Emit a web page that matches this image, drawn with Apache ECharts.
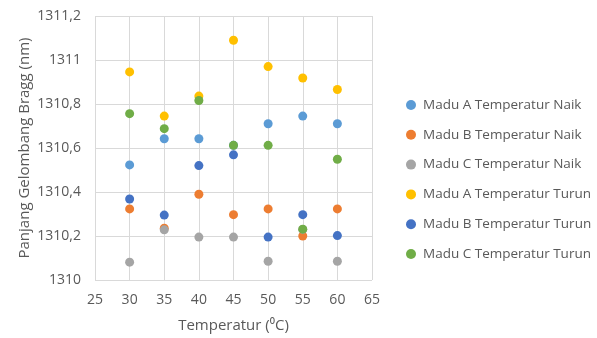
<!DOCTYPE html>
<html>
<head>
<meta charset="utf-8">
<script src="https://cdn.jsdelivr.net/npm/echarts@6/dist/echarts.min.js"></script>
<style>
  html, body { margin: 0; padding: 0; background: #fff; }
  #chart { width: 597px; height: 338px; }
</style>
</head>
<body>
<div id="chart"></div>
<script>
// Temperature points (°C)
var temperatures = [30, 35, 40, 45, 50, 55, 60];

// Bragg wavelength (nm) per honey sample, heating and cooling runs
var maduANaik  = [1310.523, 1310.642, 1310.642, 1310.612, 1310.710, 1310.745, 1310.710];
var maduBNaik  = [1310.323, 1310.235, 1310.390, 1310.297, 1310.323, 1310.200, 1310.323];
var maduCNaik  = [1310.081, 1310.228, 1310.195, 1310.195, 1310.085, 1310.230, 1310.085];
var maduATurun = [1310.946, 1310.745, 1310.836, 1311.090, 1310.970, 1310.918, 1310.866];
var maduBTurun = [1310.368, 1310.295, 1310.520, 1310.569, 1310.195, 1310.297, 1310.202];
var maduCTurun = [1310.756, 1310.688, 1310.816, 1310.612, 1310.612, 1310.231, 1310.549];

var seriesNames = [
  'Madu A Temperatur Naik', 'Madu B Temperatur Naik', 'Madu C Temperatur Naik',
  'Madu A Temperatur Turun', 'Madu B Temperatur Turun', 'Madu C Temperatur Turun'
];
var seriesValues = [maduANaik, maduBNaik, maduCNaik, maduATurun, maduBTurun, maduCTurun];
var seriesColors = ['#5B9BD5', '#ED7D31', '#A5A5A5', '#FFC000', '#4472C4', '#70AD47'];

function pairs(values) {
  return temperatures.map(function (t, i) { return [t, values[i]]; });
}

var font = '"Open Sans", "Noto Sans", sans-serif';
var textColor = '#595959';

var chart = echarts.init(document.getElementById('chart'), null, { renderer: 'canvas' });
chart.setOption({
  animation: false,
  backgroundColor: '#ffffff',
  grid: { left: 95, right: 225, top: 16, bottom: 56, containLabel: false },
  xAxis: {
    type: 'value',
    min: 25, max: 65, interval: 5,
    name: 'Temperatur (\u2070C)',
    nameLocation: 'middle',
    nameGap: 38,
    nameTextStyle: { color: textColor, fontSize: 15, fontFamily: font },
    axisLine: { show: false },
    axisTick: { show: false },
    axisLabel: { color: textColor, fontSize: 14, fontFamily: font, margin: 13 },
    splitLine: { show: true, lineStyle: { color: '#D9D9D9', width: 1 } }
  },
  yAxis: {
    type: 'value',
    min: 1310, max: 1311.2, interval: 0.2,
    name: 'Panjang Gelombang Bragg (nm)',
    nameLocation: 'middle',
    nameGap: 63,
    nameRotate: 90,
    nameTextStyle: { color: textColor, fontSize: 15, fontFamily: font },
    axisLine: { show: false },
    axisTick: { show: false },
    axisLabel: {
      color: textColor, fontSize: 14, fontFamily: font, margin: 14,
      formatter: function (v) {
        return String(Math.round(v * 10) / 10).replace('.', ',');
      }
    },
    splitLine: { show: true, lineStyle: { color: '#D9D9D9', width: 1 } }
  },
  legend: {
    orient: 'vertical',
    left: 401,
    top: 93,
    itemWidth: 10,
    itemHeight: 10,
    itemGap: 15.8,
    icon: 'circle',
    textStyle: { color: textColor, fontSize: 13.5, fontFamily: font, padding: [0, 0, 0, 2] },
    data: seriesNames
  },
  series: seriesNames.map(function (name, i) {
    return {
      name: name,
      type: 'scatter',
      symbol: 'circle',
      symbolSize: 9,
      itemStyle: { color: seriesColors[i], opacity: 1 },
      data: pairs(seriesValues[i])
    };
  })
});
</script>
</body>
</html>
